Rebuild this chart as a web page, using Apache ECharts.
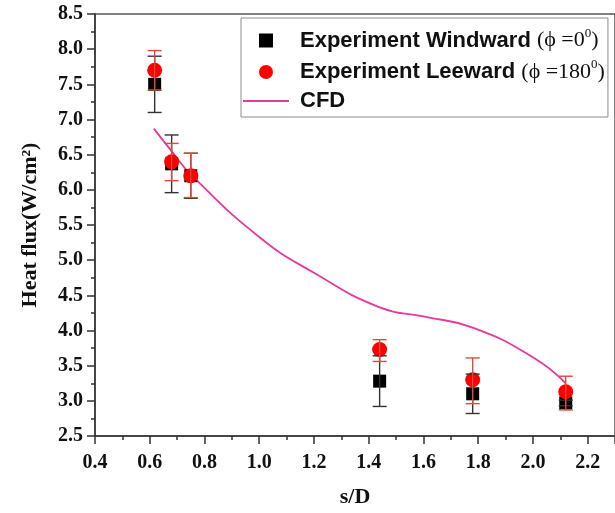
<!DOCTYPE html>
<html><head><meta charset="utf-8">
<script src="https://cdn.jsdelivr.net/npm/echarts@6/dist/echarts.min.js"></script>
<style>html,body{margin:0;padding:0;background:#fff}#c{width:615px;height:513px}</style>
</head><body><div id="c"></div>
<script>
// ---- data ----
const sD = [0.618, 0.68, 0.75, 1.44, 1.78, 2.12];
const windward = [7.5, 6.37, 6.2, 3.28, 3.1, 2.97];
const windwardErrLow = [7.1, 5.96, 5.88, 2.92, 2.82, 2.93];
const windwardErrHigh = [7.9, 6.78, 6.52, 3.64, 3.38, 3.01];
const leeward = [7.7, 6.4, 6.2, 3.73, 3.3, 3.13];
const leewardErrLow = [7.42, 6.13, 5.89, 3.56, 2.96, 2.87];
const leewardErrHigh = [7.98, 6.66, 6.52, 3.87, 3.61, 3.35];
const cfdX = [0.615, 0.68, 0.75, 1.0, 1.2, 1.44, 1.6, 1.78, 2.0, 2.12];
const cfdY = [6.87, 6.55, 6.22, 5.33, 4.82, 4.33, 4.2, 4.04, 3.62, 3.25];
const xTickStart = 0.4, xTickStep = 0.2, xAxisEnd = 2.3;
const yTickStart = 2.5, yTickStep = 0.5, yAxisEnd = 8.5;
const seriesNames = ['Experiment Windward', 'Experiment Leeward', 'CFD'];
const legendAngles = ['0', '180'];

const chart = echarts.init(document.getElementById('c'), null, {renderer: 'canvas'});
const serif = "'Liberation Serif','Times New Roman','DejaVu Serif',serif";
const sans = "'Liberation Sans',Arial,sans-serif";
const cfdColor = '#e6399b';

function errorBars(lows, highs, color, z) {
  return {
    type: 'custom', z: z, silent: true,
    data: sD.map((x, i) => [x, lows[i], highs[i]]),
    encode: {x: 0, y: [1, 2]},
    renderItem: function (params, api) {
      const lo = api.coord([api.value(0), api.value(1)]);
      const hi = api.coord([api.value(0), api.value(2)]);
      const w = 7;
      const style = {stroke: color, lineWidth: 1.4};
      return {type: 'group', children: [
        {type: 'line', shape: {x1: lo[0], y1: lo[1], x2: hi[0], y2: hi[1]}, style: style},
        {type: 'line', shape: {x1: hi[0] - w, y1: hi[1], x2: hi[0] + w, y2: hi[1]}, style: style},
        {type: 'line', shape: {x1: lo[0] - w, y1: lo[1], x2: lo[0] + w, y2: lo[1]}, style: style}
      ]};
    }
  };
}

chart.setOption({
  animation: false,
  backgroundColor: '#fff',
  grid: {left: 95, top: 14, bottom: 76, right: -8, show: true, borderColor: '#555', borderWidth: 1.5},
  legend: {
    orient: 'vertical', left: 241, top: 18,
    padding: [9, 3, 5, 2],
    itemWidth: 46, itemHeight: 14, itemGap: 7,
    symbolKeepAspect: true,
    borderColor: '#8c8c8c', borderWidth: 1,
    backgroundColor: '#fff',
    data: [
      {name: seriesNames[0], icon: 'path://M0,0H10V10H0Z', itemStyle: {color: '#000'}},
      {name: seriesNames[1], icon: 'circle', itemStyle: {color: '#ff0000'}},
      {name: seriesNames[2], icon: 'path://M0,0H46V1.8H0Z', itemStyle: {color: cfdColor}}
    ],
    formatter: function (name) {
      const i = seriesNames.indexOf(name);
      if (i < 2) return '{b|' + name + ' }{s|(\u03d5 =' + legendAngles[i] + '}{sup|0}{s|)}';
      return '{b|' + name + '}';
    },
    textStyle: {
      padding: [0, 0, 0, 6],
      rich: {
        b: {fontFamily: sans, fontWeight: 'bold', fontSize: 22, color: '#111', lineHeight: 27},
        s: {fontFamily: serif, fontSize: 22, color: '#111', lineHeight: 27},
        sup: {fontFamily: serif, fontSize: 13, color: '#111', verticalAlign: 'top', lineHeight: 27}
      }
    }
  },
  xAxis: {
    type: 'value', min: xTickStart, max: xAxisEnd, interval: xTickStep,
    name: 's/D', nameLocation: 'middle', nameGap: 50,
    nameTextStyle: {fontFamily: serif, fontWeight: 'bold', fontSize: 22, color: '#111'},
    axisLine: {onZero: false, lineStyle: {color: '#333', width: 1.5}},
    axisTick: {show: true, inside: false, length: 8, lineStyle: {color: '#333', width: 1.5}},
    minorTick: {show: true, splitNumber: 2, length: 4, lineStyle: {color: '#333', width: 1.5}},
    splitLine: {show: false},
    axisLabel: {fontFamily: serif, fontWeight: 'bold', fontSize: 20, color: '#111', margin: 17,
      showMaxLabel: false, formatter: v => v.toFixed(1)}
  },
  yAxis: {
    type: 'value', min: yTickStart, max: yAxisEnd, interval: yTickStep,
    name: 'Heat flux(W/cm\u00b2)', nameLocation: 'middle', nameGap: 54, nameRotate: 90,
    nameTextStyle: {fontFamily: serif, fontWeight: 'bold', fontSize: 22, color: '#111'},
    axisLine: {onZero: false, lineStyle: {color: '#333', width: 1.5}},
    axisTick: {show: true, inside: false, length: 8, lineStyle: {color: '#333', width: 1.5}},
    minorTick: {show: true, splitNumber: 2, length: 4, lineStyle: {color: '#333', width: 1.5}},
    splitLine: {show: false},
    axisLabel: {fontFamily: serif, fontWeight: 'bold', fontSize: 20, color: '#111', margin: 12,
      formatter: v => v.toFixed(1)}
  },
  series: [
    {
      name: 'CFD', type: 'line', smooth: 0.5, symbol: 'none', z: 2,
      lineStyle: {color: cfdColor, width: 1.8}, itemStyle: {color: cfdColor},
      data: cfdX.map((x, i) => [x, cfdY[i]])
    },
    {
      name: 'Experiment Windward', type: 'scatter', symbol: 'rect', symbolSize: 13, z: 3,
      itemStyle: {color: '#000', opacity: 1},
      data: sD.map((x, i) => [x, windward[i]])
    },
    {
      name: 'Experiment Leeward', type: 'scatter', symbol: 'circle', symbolSize: 15, z: 4,
      itemStyle: {color: '#ff0000', opacity: 1},
      data: sD.map((x, i) => [x, leeward[i]])
    },
    errorBars(windwardErrLow, windwardErrHigh, '#333', 5),
    errorBars(leewardErrLow, leewardErrHigh, '#e5473a', 5)
  ]
});
</script>
</body></html>
